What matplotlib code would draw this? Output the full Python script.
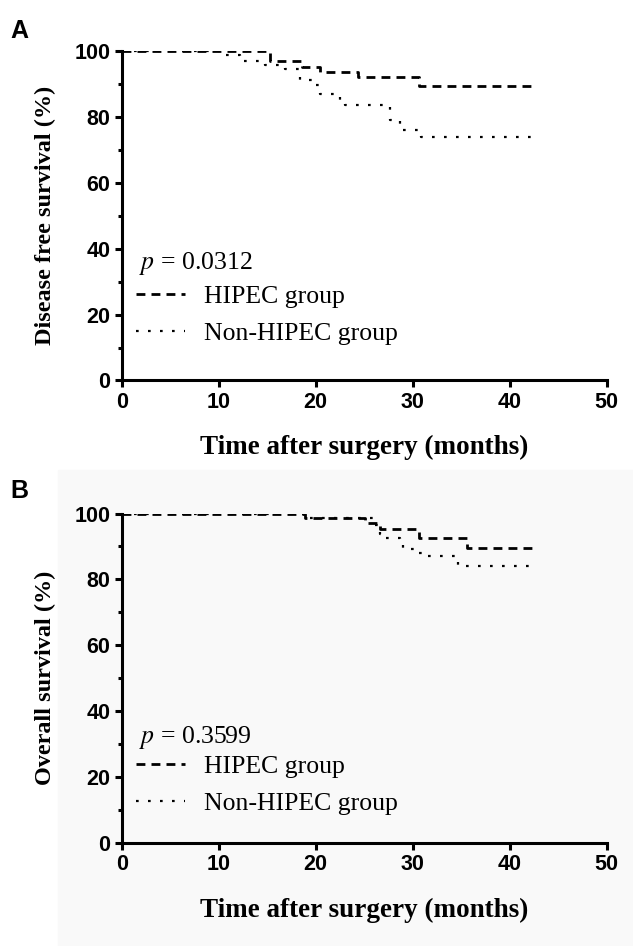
import matplotlib
matplotlib.use('Agg')
import matplotlib.pyplot as plt
from matplotlib.lines import Line2D
from matplotlib.patches import Rectangle
from matplotlib.ticker import MultipleLocator

# Datos (Kaplan-Meier, escalones)
# Panel A: supervivencia libre de enfermedad
a_hipec_t = [0, 15.3, 18.6, 20.4, 24.4, 30.6, 42.8]
a_hipec_s = [100, 97.0, 95.2, 93.7, 92.0, 89.5, 89.5]
a_non_t = [0, 10.6, 12.2, 14.8, 16.8, 18.4, 19.9, 20.4, 22.5, 23.0, 27.7, 28.7, 30.9, 42.3]
a_non_s = [100, 98.8, 97.1, 95.7, 94.4, 91.2, 89.7, 86.8, 85.1, 83.6, 79.0, 76.0, 73.9, 73.9]

# Panel B: supervivencia global
b_hipec_t = [0, 18.9, 25.1, 26.6, 30.6, 35.6, 42.8]
b_hipec_s = [100, 98.5, 97.2, 95.2, 92.6, 89.6, 89.6]
b_non_t = [0, 18.9, 26.1, 26.6, 27.1, 28.7, 29.0, 30.6, 31.3, 34.7, 42.5]
b_non_s = [100, 98.5, 96.5, 93.8, 92.6, 90.8, 89.1, 88.1, 87.1, 84.1, 84.1]

p_valores = ['0.0312', '0.3599']
etiquetas_y = ['Disease free survival (%)', 'Overall survival (%)']
letras = ['A', 'B']
etiqueta_x = 'Time after surgery (months)'
grupos = ['HIPEC group', 'Non-HIPEC group']

serif = 'Liberation Serif'
sans = 'Liberation Sans'

estilo_hipec = dict(color='black', lw=2.0, linestyle=(0, (3.2, 2.2)))
estilo_non = dict(color='black', lw=1.6, linestyle=(0, (1.2, 4.2)))

fig = plt.figure(figsize=(6.33, 9.46), dpi=100)

# fondo gris muy claro del panel B
fig.patches.append(Rectangle((58 / 633, 0), 1, 476 / 946, transform=fig.transFigure,
                             color='#f9f9f9', zorder=-10))

ejes = [fig.add_axes([121.7 / 633, (946 - 380.5) / 946, 485 / 633, 329.5 / 946]),
        fig.add_axes([121.7 / 633, (946 - 843) / 946, 485 / 633, 329.5 / 946])]
ejes[1].patch.set_alpha(0)

datos = [(a_hipec_t, a_hipec_s, a_non_t, a_non_s),
         (b_hipec_t, b_hipec_s, b_non_t, b_non_s)]
letra_y = [38, 498]
p_y = [0.355, 0.32]
leg_y = [0.2, 0.175]

for i, ax in enumerate(ejes):
    ht, hs, nt, ns = datos[i]
    ax.step(nt, ns, where='post', **estilo_non)
    ax.step(ht, hs, where='post', **estilo_hipec)

    ax.set_xlim(0, 50)
    ax.set_ylim(0, 100)
    ax.xaxis.set_major_locator(MultipleLocator(10))
    ax.yaxis.set_major_locator(MultipleLocator(20))
    ax.yaxis.set_minor_locator(MultipleLocator(10))
    for lado in ['top', 'right']:
        ax.spines[lado].set_visible(False)
    for lado in ['left', 'bottom']:
        ax.spines[lado].set_linewidth(2.2)
    ax.tick_params(which='major', length=5, width=2.2, pad=3)
    ax.tick_params(which='minor', length=3, width=2.2)
    for lab in ax.get_xticklabels() + ax.get_yticklabels():
        lab.set_fontfamily(sans)
        lab.set_fontweight('bold')
        lab.set_fontsize(15.5)

    ax.set_xlabel(etiqueta_x, fontfamily=serif, fontweight='bold', fontsize=19.5)
    ax.xaxis.set_label_coords(0.5, -0.165)
    ax.set_ylabel(etiquetas_y[i], fontfamily=serif, fontweight='bold', fontsize=17.5)
    ax.yaxis.set_label_coords(-0.135, 0.5)

    ax.text(0.036, p_y[i], r'$p$ = ' + p_valores[i],
            transform=ax.transAxes, fontfamily=serif, fontsize=18.5,
            va='center', ha='left', math_fontfamily='stix')

    manejadores = [Line2D([], [], **estilo_hipec), Line2D([], [], **estilo_non)]
    ax.legend(manejadores, grupos, loc='center left', bbox_to_anchor=(0.03, leg_y[i]),
              frameon=False, handlelength=1.9, handletextpad=0.75,
              labelspacing=0.55, borderpad=0, borderaxespad=0,
              prop={'family': serif, 'size': 18.5})

    fig.text(10 / 633, 1 - letra_y[i] / 946, letras[i], fontfamily=sans,
             fontweight='bold', fontsize=18, ha='left', va='baseline')

fig.savefig('out.png', dpi=100)
